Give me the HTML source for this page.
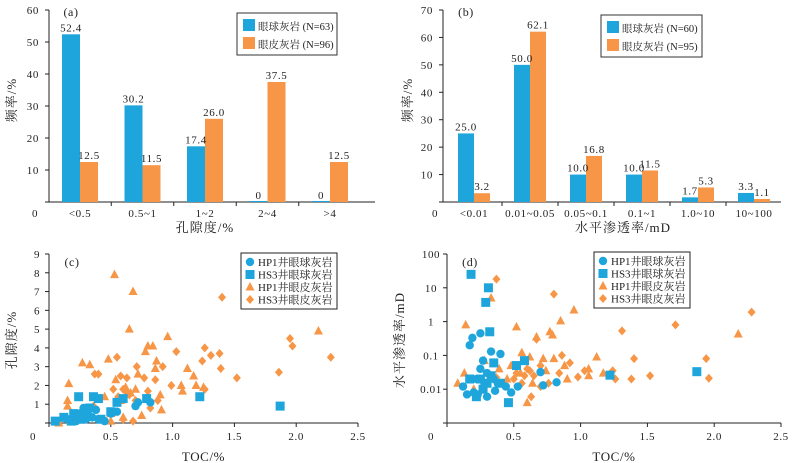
<!DOCTYPE html>
<html><head><meta charset="utf-8"><style>
body{margin:0;background:#fff}
svg{display:block;font-family:"Liberation Serif","Noto Serif CJK SC","Noto Sans CJK SC",serif}
</style></head><body>
<svg id="s" width="794" height="463"></svg>
<script>
const catsA=["<0.5","0.5~1","1~2","2~4",">4"];
const blueA=[52.4,30.2,17.4,0,0];
const orangeA=[12.5,11.5,26.0,37.5,12.5];
const ticksA=[0,10,20,30,40,50,60];
const catsB=["<0.01","0.01~0.05","0.05~0.1","0.1~1","1.0~10","10~100"];
const blueB=[25.0,50.0,10.0,10.0,1.7,3.3];
const orangeB=[3.2,62.1,16.8,11.5,5.3,1.1];
const ticksB=[0,10,20,30,40,50,60,70];
const ticksC=[0,1,2,3,4,5,6,7,8,9];
const ticksX=[0,0.5,1.0,1.5,2.0,2.5];
const ticksD=[0.001,0.01,0.1,1,10,100];
const tickLabD=["0","0.01","0.1","1","10","100"];
const cHP1eye=[[0.15,0.2],[0.2,0.3],[0.25,0.5],[0.28,0.8],[0.3,0.6],[0.32,0.4],[0.35,0.3],[0.4,0.2],[0.45,0.1],[0.5,0.5],[0.55,0.6],[0.7,0.9],[0.72,1.1],[0.82,1.1],[0.3,0.2],[0.22,0.1],[0.38,0.7],[0.27,0.3]];
const cHS3eye=[[0.05,0.1],[0.12,0.3],[0.18,0.1],[0.24,1.4],[0.28,0.5],[0.33,0.8],[0.36,1.4],[0.4,1.3],[0.5,0.6],[0.55,1.1],[0.6,1.3],[0.79,1.3],[1.22,1.4],[1.87,0.9],[0.2,0.5],[0.25,0.2],[0.42,0.2]];
const cHP1skin=[[0.08,0],[0.15,1.2],[0.16,2.1],[0.15,0.9],[0.2,0.2],[0.27,3.2],[0.33,3.1],[0.45,1.4],[0.48,3.4],[0.53,7.9],[0.54,2.3],[0.65,5.0],[0.68,7.0],[0.62,1.9],[0.72,2.6],[0.75,0.4],[0.78,3.8],[0.8,4.1],[0.84,4.1],[0.87,3.3],[0.9,1.5],[0.91,0.7],[0.96,4.6],[1.07,2.0],[1.08,1.7],[1.12,2.9],[1.17,2.5],[1.19,2.0],[1.25,1.9],[2.18,4.9],[0.5,0.5],[0.6,0.3],[0.58,1.2],[0.7,1.8],[0.66,1.6],[0.86,2.9],[0.5,0.1]];
const cHS3skin=[[0.37,2.6],[0.4,2.6],[0.36,0.9],[0.55,3.5],[0.58,2.5],[0.6,1.8],[0.63,2.4],[0.65,1.5],[0.68,0.1],[0.71,3.0],[0.77,2.4],[0.8,1.7],[0.82,0.8],[0.86,2.3],[0.88,1.2],[0.92,3.0],[0.99,2.0],[1.03,3.8],[1.24,3.3],[1.26,4.0],[1.26,1.8],[1.31,3.6],[1.38,3.7],[1.39,2.9],[1.4,6.7],[1.52,2.4],[1.86,2.7],[1.95,4.5],[1.97,4.1],[2.28,3.5],[0.52,1.8],[0.56,1.4],[0.62,1.7],[0.7,1.2],[0.6,0.2]];
const dHP1eye=[[0.12,0.012],[0.15,0.007],[0.17,0.2],[0.19,0.33],[0.25,0.45],[0.2,0.008],[0.23,0.007],[0.25,0.04],[0.27,0.07],[0.3,0.006],[0.33,0.13],[0.36,0.009],[0.4,0.11],[0.38,0.015],[0.44,0.012],[0.48,0.008],[0.53,0.012],[0.7,0.032],[0.72,0.013],[0.82,0.016],[0.3,0.03],[0.28,0.015],[0.22,0.02],[0.35,0.02]];
const dHS3eye=[[0.17,0.02],[0.18,25],[0.22,0.006],[0.29,3.7],[0.31,10],[0.32,0.5],[0.35,0.06],[0.46,0.004],[0.52,0.05],[0.58,0.07],[1.22,0.026],[1.87,0.033],[0.25,0.02],[0.3,0.015],[0.27,0.01],[0.33,0.025],[0.4,0.015]];
const dHP1skin=[[0.08,0.015],[0.13,0.03],[0.14,0.8],[0.2,0.01],[0.28,0.07],[0.33,5],[0.39,0.04],[0.45,0.02],[0.48,0.05],[0.52,0.7],[0.56,0.12],[0.6,0.004],[0.62,0.09],[0.67,0.35],[0.72,0.08],[0.77,0.5],[0.79,0.4],[0.8,0.08],[0.85,1.05],[0.88,0.05],[0.95,2.2],[1.06,0.04],[1.12,0.09],[1.17,0.03],[1.06,0.025],[2.18,0.43],[0.9,0.02],[0.74,0.035],[0.64,0.015],[0.55,0.03]];
const dHS3skin=[[0.37,18],[0.37,0.022],[0.52,0.03],[0.56,0.015],[0.6,0.04],[0.63,0.006],[0.65,0.025],[0.67,0.3],[0.7,0.05],[0.76,0.015],[0.8,6.5],[0.84,0.03],[0.86,0.1],[0.92,0.06],[0.98,0.023],[1.03,0.035],[1.24,0.035],[1.26,0.02],[1.31,0.53],[1.38,0.02],[1.4,0.08],[1.52,0.025],[1.71,0.8],[1.94,0.08],[1.96,0.021],[2.28,1.9],[0.5,0.02],[0.58,0.025],[0.62,0.035],[0.7,0.012]];

const B="#1ea6dc",O="#f79646";
const svg=document.getElementById('s');const NS="http://www.w3.org/2000/svg";
function el(t,a,name,txt){const e=document.createElementNS(NS,t);for(const k in a)e.setAttribute(k,a[k]);


if(txt!==undefined)e.textContent=txt;svg.appendChild(e);return e;}
function line(x1,y1,x2,y2,n){return el('line',{x1,y1,x2,y2,stroke:'#222','stroke-width':1},n);}
function text(x,y,s,n,o){o=o||{};return el('text',Object.assign({x,y,'font-size':11,fill:'#222','text-anchor':'middle','letter-spacing':'0.6'},o),n,s);}
function vtitle(x,y,s,n){return text(x,y,s,n,{transform:`rotate(-90 ${x} ${y})`,'font-size':13,'letter-spacing':'1'});}

function bars(x0,x1,y0,yTop,maxV,ticks,cats,bl,or,first,sp,bw,pre){
 const ys=v=>y0-(v/maxV)*(y0-yTop);
 line(x0,yTop,x0,y0,pre+'-y-axis');line(x0,y0,x1,y0,pre+'-x-axis');
 ticks.forEach(t=>{line(x0-4,ys(t),x0,ys(t),pre+'-y-tick');if(t>0)text(x0-10,ys(t)+4,t,pre+'-y-tick-label',{'text-anchor':'end'});});
 cats.forEach((c,i)=>{const bx=first+i*sp;const cx=bx+bw;
  if(i>0)line(cx-sp/2,y0,cx-sp/2,y0+4,pre+'-x-tick');
  el('rect',{x:bx,y:ys(bl[i])-(bl[i]===0?1:0),width:bw,height:Math.max(1,y0-ys(bl[i])),fill:B},pre+'-bar-blue-'+i);
  el('rect',{x:bx+bw,y:ys(or[i]),width:bw,height:y0-ys(or[i]),fill:O},pre+'-bar-orange-'+i);
  text(bx+bw/2,ys(bl[i])-3,bl[i]===0?"0":bl[i].toFixed(1),pre+'-value-blue');
  text(bx+bw*1.5,ys(or[i])-3,or[i].toFixed(1),pre+'-value-orange');
  text(cx,y0+15,c,pre+'-category-label');});
}
text(35,217,"0",'a-origin');
bars(49,375,202,10,60,ticksA,catsA,blueA,orangeA,62,62.5,18,'a');
text(71,16,"(a)",'a-panel-label',{'font-size':12});
vtitle(16,100,"频率/%",'a-y-title');text(205,232,"孔隙度/%",'a-x-title',{'font-size':13,'letter-spacing':'1'});
text(435,217,"0",'b-origin');
bars(443,781,202,10,70,ticksB,catsB,blueB,orangeB,458,56,16,'b');
text(466,16,"(b)",'b-panel-label',{'font-size':12});
vtitle(412,100,"频率/%",'b-y-title');text(623,232,"水平渗透率/mD",'b-x-title',{'font-size':13,'letter-spacing':'1'});
function barLegend(x,y,w,nb,no,pre){el('rect',{x,y,width:w,height:42,fill:'#fff',stroke:'#333'},pre+'-legend');
 el('rect',{x:x+6,y:y+6,width:12,height:12,fill:B},pre+'-legend-blue-swatch');
 text(x+21,y+17,nb,pre+'-legend-blue-label',{'text-anchor':'start','font-size':10.5,'letter-spacing':'0'});
 el('rect',{x:x+6,y:y+24,width:12,height:12,fill:O},pre+'-legend-orange-swatch');
 text(x+21,y+35,no,pre+'-legend-orange-label',{'text-anchor':'start','font-size':10.5,'letter-spacing':'0'});}
barLegend(237,13,100,"眼球灰岩 (N=63)","眼皮灰岩 (N=96)",'a');
barLegend(601,15,101,"眼球灰岩 (N=60)","眼皮灰岩 (N=95)",'b');

function marker(type,x,y,col,n){
 if(type==='c')el('circle',{cx:x,cy:y,r:4.2,fill:col},n);
 else if(type==='s')el('rect',{x:x-4.5,y:y-4.5,width:9,height:9,fill:col},n);
 else if(type==='t')el('polygon',{points:`${x},${y-5} ${x-4.5},${y+3.5} ${x+4.5},${y+3.5}`,fill:col},n);
 else el('polygon',{points:`${x},${y-4.5} ${x+4},${y} ${x},${y+4.5} ${x-4},${y}`,fill:col},n);}
function scatterLegend(x,y,pre){el('rect',{x,y,width:96,height:56,fill:'#fff',stroke:'#222'},pre+'-legend');
 const it=[['c',B,'HP1井眼球灰岩'],['s',B,'HS3井眼球灰岩'],['t',O,'HP1井眼皮灰岩'],['d',O,'HS3井眼皮灰岩']];
 it.forEach((d,i)=>{marker(d[0],x+9,y+9+i*12.5,d[1],pre+'-legend-marker');text(x+17,y+13+i*12.5,d[2],pre+'-legend-label',{'text-anchor':'start','font-size':11,'letter-spacing':'0'});});}
function scatterAxes(x0,x1,y0,yTop,pre){line(x0,yTop,x0,y0,pre+'-y-axis');line(x0,y0,x1,y0,pre+'-x-axis');
 const xs=v=>x0+v/2.5*(x1-x0);
 ticksX.forEach(t=>{line(xs(t),y0,xs(t),y0+4,pre+'-x-tick');text(xs(t)+(t===0?-16:0),y0+17,t===0?"0":t.toFixed(1),pre+'-x-tick-label');});
 text((x0+x1)/2,y0+38,"TOC/%",pre+'-x-title',{'font-size':13});return xs;}
// (c)
{const x0=49,x1=358,y0=423,yT=254;const xs=scatterAxes(x0,x1,y0,yT,'c');const ys=v=>y0-v/9*(y0-yT);
 ticksC.forEach(t=>{line(x0-4,ys(t),x0,ys(t),'c-y-tick');if(t>0)text(x0-12,ys(t)+4,t,'c-y-tick-label');});
 cHS3skin.forEach(p=>marker('d',xs(p[0]),ys(p[1]),O,'c-hs3-skin-point'));
 cHP1skin.forEach(p=>marker('t',xs(p[0]),ys(p[1]),O,'c-hp1-skin-point'));
 cHP1eye.forEach(p=>marker('c',xs(p[0]),ys(p[1]),B,'c-hp1-eye-point'));
 cHS3eye.forEach(p=>marker('s',xs(p[0]),ys(p[1]),B,'c-hs3-eye-point'));
 text(72,266,"(c)",'c-panel-label',{'font-size':12});vtitle(16,340,"孔隙度/%",'c-y-title');scatterLegend(241,253,'c');}
// (d)
{const x0=447,x1=781,y0=423,yT=254;const xs=scatterAxes(x0,x1,y0,yT,'d');const ys=v=>y0-(Math.log10(v)+3)/5*(y0-yT);
 ticksD.forEach((t,i)=>{line(x0-4,ys(t),x0,ys(t),'d-y-tick');if(i>0)text(x0-16,ys(t)+4,tickLabD[i],'d-y-tick-label');});
 dHS3skin.forEach(p=>marker('d',xs(p[0]),ys(p[1]),O,'d-hs3-skin-point'));
 dHP1skin.forEach(p=>marker('t',xs(p[0]),ys(p[1]),O,'d-hp1-skin-point'));
 dHP1eye.forEach(p=>marker('c',xs(p[0]),ys(p[1]),B,'d-hp1-eye-point'));
 dHS3eye.forEach(p=>marker('s',xs(p[0]),ys(p[1]),B,'d-hs3-eye-point'));
 text(470,266,"(d)",'d-panel-label',{'font-size':12});vtitle(404,340,"水平渗透率/mD",'d-y-title');scatterLegend(594,252,'d');}
</script></body></html>
